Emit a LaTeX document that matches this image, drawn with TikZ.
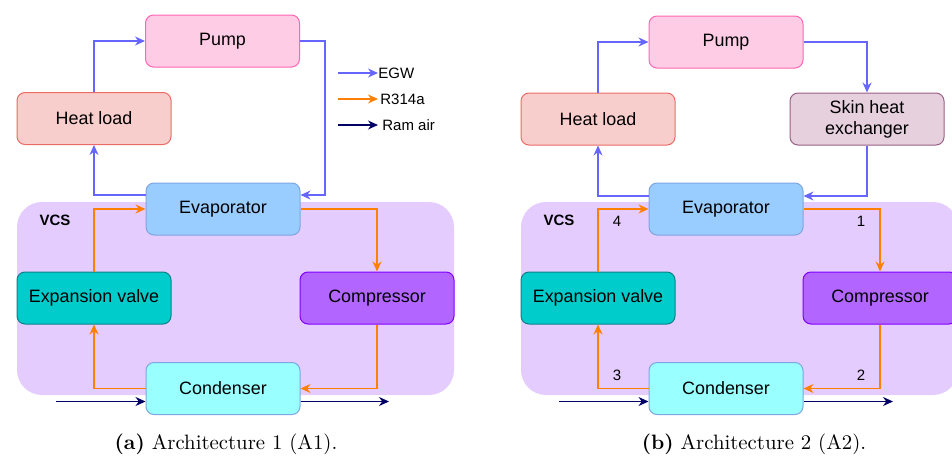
\documentclass[tikz,border=0pt]{standalone}
\usepackage{fontspec}
\newfontfamily\diasf{Liberation Sans}
\usetikzlibrary{arrows.meta,calc}
\definecolor{PumpFill}{HTML}{FFCCE6}
\definecolor{PumpDraw}{HTML}{FF66B3}
\definecolor{LoadFill}{HTML}{F8CECC}
\definecolor{LoadDraw}{HTML}{EA6B66}
\definecolor{EvapFill}{HTML}{99CCFF}
\definecolor{EvapDraw}{HTML}{7EA6E0}
\definecolor{ValveFill}{HTML}{00CCCC}
\definecolor{ValveDraw}{HTML}{0E8088}
\definecolor{CompFill}{HTML}{B266FF}
\definecolor{CompDraw}{HTML}{7F00FF}
\definecolor{CondFill}{HTML}{99FFFF}
\definecolor{HxFill}{HTML}{E6D0DE}
\definecolor{HxDraw}{HTML}{996185}
\definecolor{VcsFill}{HTML}{E5CCFF}
\definecolor{EgwClr}{HTML}{6666FF}
\definecolor{RefClr}{HTML}{FF8000}
\definecolor{AirClr}{HTML}{000066}
\tikzset{
  unit/.style={draw,rounded corners=4pt,minimum width=77pt,minimum height=26pt,
    line width=0.5pt,align=center,font=\diasf\fontsize{8.95}{10.4}\selectfont},
  pumpbox/.style={unit,fill=PumpFill,draw=PumpDraw},
  loadbox/.style={unit,fill=LoadFill,draw=LoadDraw},
  evapbox/.style={unit,fill=EvapFill,draw=EvapDraw},
  valvebox/.style={unit,fill=ValveFill,draw=ValveDraw},
  compbox/.style={unit,fill=CompFill,draw=CompDraw},
  condbox/.style={unit,fill=CondFill,draw=EvapDraw},
  hxbox/.style={unit,fill=HxFill,draw=HxDraw},
  vcsarea/.style={fill=VcsFill,rounded corners=12.5pt},
  smalltxt/.style={inner sep=0pt,font=\diasf\fontsize{7.5}{9}\selectfont},
  vcstxt/.style={smalltxt,font=\diasf\bfseries\fontsize{7.5}{9}\selectfont},
  egwline/.style={draw=EgwClr,line width=0.6pt,-{Stealth[length=5pt,width=4.5pt]}},
  refline/.style={draw=RefClr,line width=0.6pt,-{Stealth[length=5pt,width=4.5pt]}},
  airline/.style={draw=AirClr,line width=0.7pt,-{Stealth[length=5pt,width=4.5pt]}},
  captxt/.style={inner sep=0pt,font=\fontsize{10.4}{12}\selectfont}
}
\begin{document}
\begin{tikzpicture}[x=0.5pt,y=-0.5pt]
\useasboundingbox (0,0) rectangle (952,455);

\fill[vcsarea] (17,202) rectangle (454,395);
\fill[vcsarea] (521,202) rectangle (958,395);

\node[pumpbox] (pumpA) at (222.5,41) {Pump};
\node[loadbox] (loadA) at (94,118.5) {Heat load};
\node[evapbox] (evapA) at (223,209) {Evaporator};
\node[valvebox] (valveA) at (94,298) {Expansion valve};
\node[compbox] (compA) at (377,298) {Compressor};
\node[condbox] (condA) at (223,388.5) {Condenser};
\node[vcstxt] (vcsA) at (55,220) {VCS};

\node[pumpbox] (pumpB) at (726,42) {Pump};
\node[loadbox] (loadB) at (598,119) {Heat load};
\node[hxbox] (hxB) at (867,119) {Skin heat\\exchanger};
\node[evapbox] (evapB) at (726,209) {Evaporator};
\node[valvebox] (valveB) at (598,298) {Expansion valve};
\node[compbox] (compB) at (880,298) {Compressor};
\node[condbox] (condB) at (726,388.5) {Condenser};
\node[vcstxt] (vcsB) at (559,220) {VCS};

\draw[egwline] ([yshift=7pt]evapA.west) -| (loadA.south);
\draw[egwline] (loadA.north) |- (pumpA.west);
\draw[egwline] (pumpA.east) -- ++(25,0) |- ([yshift=7pt]evapA.east);
\draw[refline] (valveA.north) |- (evapA.west);
\draw[refline] (evapA.east) -| (compA.north);
\draw[refline] (compA.south) |- (condA.east);
\draw[refline] (condA.west) -| (valveA.south);
\coordinate (airinA) at (56,401.5);
\coordinate (airoutA) at (389,401.5);
\draw[airline] (airinA) -- (airinA -| condA.west);
\draw[airline] (condA.east |- airoutA) -- (airoutA);

\draw[egwline] ([yshift=6.5pt]evapB.west) -| (loadB.south);
\draw[egwline] (loadB.north) |- (pumpB.west);
\draw[egwline] (pumpB.east) -| (hxB.north);
\draw[egwline] (hxB.south) |- ([yshift=6.5pt]evapB.east);
\draw[refline] (valveB.north) |- (evapB.west);
\draw[refline] (evapB.east) -| (compB.north);
\draw[refline] (compB.south) |- (condB.east);
\draw[refline] (condB.west) -| (valveB.south);
\coordinate (airinB) at (559,401.5);
\coordinate (airoutB) at (893,401.5);
\draw[airline] (airinB) -- (airinB -| condB.west);
\draw[airline] (condB.east |- airoutB) -- (airoutB);

\node[smalltxt] (s4) at (617,221) {4};
\node[smalltxt] (s1) at (861,221) {1};
\node[smalltxt] (s3) at (617,375) {3};
\node[smalltxt] (s2) at (861,375) {2};

\node[smalltxt,anchor=west] (egw) at (378,73) {EGW};
\node[smalltxt,anchor=west] (ref) at (380,99) {R314a};
\node[smalltxt,anchor=west] (air) at (382,125) {Ram air};
\coordinate (egwS) at (338,73);
\coordinate (refS) at (338,99);
\coordinate (airS) at (338,125);
\draw[egwline] (egwS) -- (egw.west);
\draw[refline] (refS) -- ([xshift=-1pt]ref.west);
\draw[airline] (airS) -- ([xshift=-2pt]air.west);

\node[captxt] (capA) at (226,444) {\textbf{(a)} Architecture 1 (A1).};
\node[captxt] (capB) at (754,444) {\textbf{(b)} Architecture 2 (A2).};
\end{tikzpicture}
\end{document}
